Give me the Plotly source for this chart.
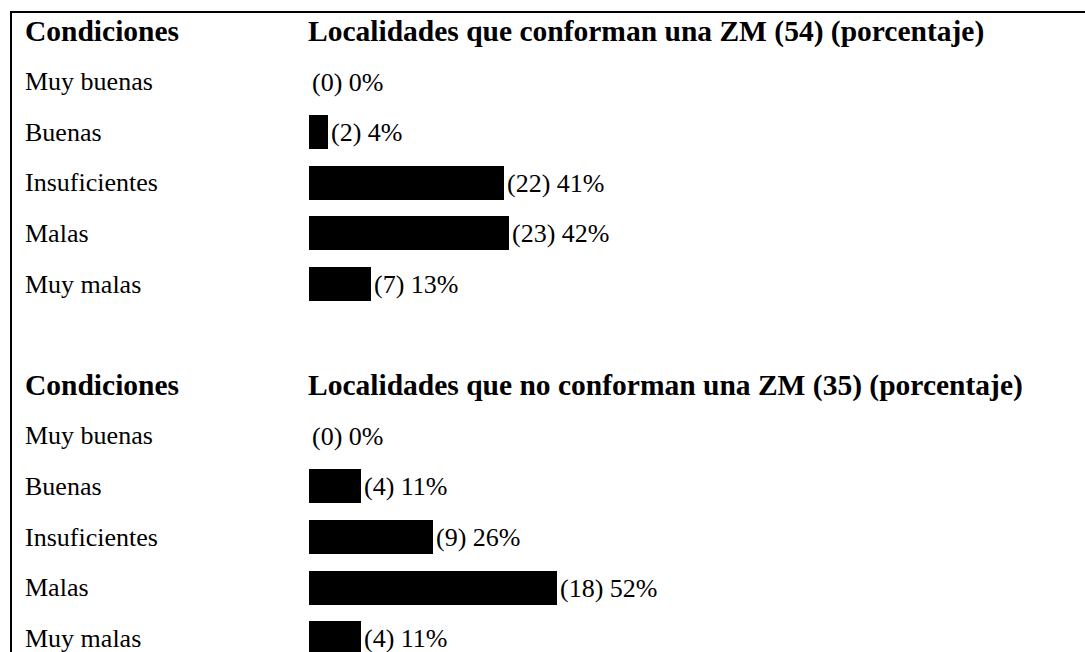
import plotly.graph_objects as go

categories = ["Muy buenas", "Buenas", "Insuficientes", "Malas", "Muy malas"]
col_header = "Condiciones"
zm_title = "Localidades que conforman una ZM (54) (porcentaje)"
zm_counts = [0, 2, 22, 23, 7]
zm_pct = [0, 4, 41, 42, 13]
nozm_title = "Localidades que no conforman una ZM (35) (porcentaje)"
nozm_counts = [0, 4, 9, 18, 4]
nozm_pct = [0, 11, 26, 52, 11]

W, H = 1085, 652
FONT = "Liberation Serif, Times New Roman, serif"
REG = 26
BOLD = 29.5

# row layout: block 1 header row 0, rows 1..5; blank row 6; block 2 header row 7, rows 8..12
blocks = [
    (0, zm_title, zm_counts, zm_pct),
    (7, nozm_title, nozm_counts, nozm_pct),
]

row_px0 = 31.0
row_step = 50.6
y_top = -row_px0 / row_step
y_bot = (H - row_px0) / row_step

x0_px = 309
px_per_pct = 4.76
x_max = (W - x0_px) / px_per_pct

label_x = 23 / W
header_x = 306 / W

fig = go.Figure()
annotations = []
for start, title, counts, pcts in blocks:
    rows = [start + 1 + i for i in range(len(categories))]
    fig.add_trace(go.Bar(
        x=pcts, y=rows, orientation="h",
        marker=dict(color="black", line=dict(width=0)),
        width=0.67,
        text=[f"({c}) {p}%" for c, p in zip(counts, pcts)],
        textposition="outside",
        outsidetextfont=dict(family=FONT, size=REG, color="black"),
        cliponaxis=False,
        showlegend=False,
        hoverinfo="skip",
    ))
    annotations.append(dict(text=f"<b>{col_header}</b>", x=label_x, xref="paper", xanchor="left",
                            y=start, yref="y", yanchor="middle", showarrow=False,
                            font=dict(family=FONT, size=BOLD, color="black")))
    annotations.append(dict(text=f"<b>{title}</b>", x=header_x, xref="paper", xanchor="left",
                            y=start, yref="y", yanchor="middle", showarrow=False,
                            font=dict(family=FONT, size=BOLD, color="black")))
    for r, cat in zip(rows, categories):
        annotations.append(dict(text=cat, x=label_x, xref="paper", xanchor="left",
                                y=r, yref="y", yanchor="middle", showarrow=False,
                                font=dict(family=FONT, size=REG, color="black")))

shapes = [
    dict(type="line", xref="paper", yref="paper", x0=10 / W, x1=1.0, y0=1 - 12 / H, y1=1 - 12 / H,
         line=dict(color="black", width=2)),
    dict(type="line", xref="paper", yref="paper", x0=11 / W, x1=11 / W, y0=1 - 11 / H, y1=0,
         line=dict(color="black", width=2)),
]

fig.update_layout(
    width=W, height=H,
    margin=dict(l=0, r=0, t=0, b=0),
    paper_bgcolor="white", plot_bgcolor="white",
    bargap=0,
    annotations=annotations,
    shapes=shapes,
    xaxis=dict(domain=[x0_px / W, 1.0], range=[0, x_max], visible=False, fixedrange=True),
    yaxis=dict(range=[y_bot, y_top], visible=False, fixedrange=True),
)

fig.write_html(
    "out.html",
    config={"displayModeBar": False},
    post_script="document.body.style.margin='0';document.body.style.overflow='hidden';",
)
